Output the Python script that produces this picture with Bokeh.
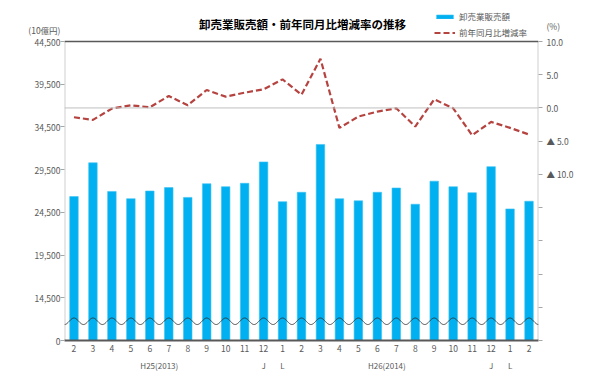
import numpy as np
from bokeh.plotting import figure
from bokeh.models import (Range1d, LinearAxis, FixedTicker, Span, Label, Legend, LegendItem, ColumnDataSource)
from bokeh.embed import file_html
from bokeh.resources import INLINE

# ---- data ----
months = ["2", "3", "4", "5", "6", "7", "8", "9", "10", "11", "12", "1",
          "2", "3", "4", "5", "6", "7", "8", "9", "10", "11", "12", "1", "2"]
sales = [26350, 30300, 26950, 26100, 27000, 27400, 26250, 27850, 27500, 27900, 30400, 25750,
         26850, 32450, 26100, 25850, 26850, 27350, 25450, 28150, 27500, 26800, 29850, 24900, 25800]
yoy = [-1.4, -1.8, -0.1, 0.4, 0.1, 1.8, 0.4, 2.7, 1.7, 2.3, 2.8, 4.3,
       2.0, 7.4, -3.0, -1.3, -0.55, -0.05, -2.8, 1.3, -0.05, -4.1, -2.1, -3.0, -4.0]
left_ticks = [9500, 14500, 19500, 24500, 29500, 34500, 39500, 44500]
left_labels = ["0", "14,500", "19,500", "24,500", "29,500", "34,500", "39,500", "44,500"]
right_ticks = [-35, -30, -25, -20, -15, -10, -5, 0, 5, 10]
right_labels = ["", "", "", "", "", "▲ 10.0", "▲ 5.0", "0.0", "5.0", "10.0"]
year_pos = [4.5, 10, 11, 16.5, 22, 23]
year_labels = ["H25(2013)", "J", "L", "H26(2014)", "J", "L"]
left_unit = "(10億円)"
right_unit = "(%)"
title = "卸売業販売額・前年同月比増減率の推移"

FONT = "Noto Sans CJK JP"
TXT = "#595959"
BLUE = "#00B0F0"
RED = "#B5433F"
TICK = "#A6A6A6"

# layout (pixels)
W, H = 592, 374
B_LEFT, B_RIGHT, B_BOTTOM = 64, 54, 34
PLOT_TOP = 41                      # where the value area begins below the frame top
FRAME_H = H - B_BOTTOM             # frame reaches the canvas top
AREA_H = FRAME_H - PLOT_TOP

n = len(months)
xs = list(range(n))
src = ColumnDataSource(dict(x=xs, sales=sales, yoy=yoy))

l_lo, l_hi = left_ticks[0], left_ticks[-1]
r_lo, r_hi = right_ticks[0], right_ticks[-1]
l_per_px = (l_hi - l_lo) / AREA_H
r_per_px = (r_hi - r_lo) / AREA_H

p = figure(width=W, height=H, output_backend="svg", toolbar_location=None,
           x_range=Range1d(-0.5, n - 0.5),
           y_range=Range1d(l_lo, l_hi + PLOT_TOP * l_per_px),
           min_border_left=B_LEFT, min_border_right=B_RIGHT, min_border_top=0,
           min_border_bottom=B_BOTTOM)
p.extra_y_ranges = {"pct": Range1d(r_lo, r_hi + PLOT_TOP * r_per_px)}
p.outline_line_color = None
p.background_fill_color = "white"
p.border_fill_color = "white"
p.xgrid.visible = False
p.ygrid.visible = False

# zero line of percentage axis
p.add_layout(Span(location=0, dimension="width", y_range_name="pct",
                  line_color="#BFBFBF", line_width=1))
# top border line
p.add_layout(Span(location=l_hi, dimension="width",
                  line_color="#595959", line_width=1.5))
# side axis lines, limited to the value area
p.segment(x0=[-0.5, n - 0.5], y0=[l_lo, l_lo], x1=[-0.5, n - 0.5], y1=[l_hi, l_hi],
          line_color="#D0D0D0", line_width=2)

bars = p.vbar(x="x", top="sales", bottom=l_lo, width=0.45, source=src,
              fill_color=BLUE, line_color="#3FC3F3", line_width=0.6)
line = p.line(x="x", y="yoy", source=src, y_range_name="pct",
              line_color=RED, line_width=2.2, line_dash="6 3")

# wavy break mark
wx = np.linspace(-0.5, n - 0.5, 1200)
wy = 11750 + 380 * np.cos(2 * np.pi * wx)
p.line(wx, wy, line_color="#333333", line_width=0.9)


def style_ticks_only(ax, ticks):
    ax.ticker = FixedTicker(ticks=ticks)
    ax.major_label_overrides = {t: "" for t in ticks}
    ax.major_label_text_font_size = "0px"
    ax.major_label_standoff = 0
    ax.axis_line_color = None
    ax.major_tick_line_color = TICK
    ax.major_tick_out = 4
    ax.major_tick_in = 0
    ax.minor_tick_line_color = None
    ax.minor_tick_out = 0


def style_labels_only(ax, ticks, labels, standoff):
    ax.ticker = FixedTicker(ticks=ticks)
    ax.major_label_overrides = {t: l for t, l in zip(ticks, labels)}
    ax.axis_line_color = None
    ax.major_tick_line_color = None
    ax.major_tick_out = 0
    ax.major_tick_in = 0
    ax.minor_tick_line_color = None
    ax.minor_tick_out = 0
    ax.major_label_text_font = FONT
    ax.major_label_text_font_size = "8.5px"
    ax.major_label_text_color = TXT
    ax.major_label_standoff = standoff


# left: tick marks (next to the frame), then labels (incl. unit)
style_ticks_only(p.yaxis[0], left_ticks)
l_unit_val = l_hi + 12 * l_per_px
la = LinearAxis()
style_labels_only(la, left_ticks + [l_unit_val], left_labels + [left_unit], 0)
p.add_layout(la, "left")

# right: tick marks, then labels (incl. unit)
rt = LinearAxis(y_range_name="pct")
style_ticks_only(rt, right_ticks)
p.add_layout(rt, "right")
r_unit_val = r_hi + 16 * r_per_px
ra = LinearAxis(y_range_name="pct")
style_labels_only(ra, right_ticks + [r_unit_val], right_labels + [right_unit], 4)
p.add_layout(ra, "right")

# bottom axis (months)
xa = p.xaxis[0]
xa.ticker = FixedTicker(ticks=xs)
xa.major_label_overrides = {i: m for i, m in enumerate(months)}
xa.axis_line_color = "#595959"
xa.axis_line_width = 2
xa.major_tick_line_color = None
xa.major_tick_out = 0
xa.major_tick_in = 0
xa.minor_tick_line_color = None
xa.minor_tick_out = 0
xa.major_label_text_font = FONT
xa.major_label_text_font_size = "8.5px"
xa.major_label_text_color = TXT
xa.major_label_standoff = 4

# second bottom axis (years)
xa2 = LinearAxis()
xa2.ticker = FixedTicker(ticks=year_pos)
xa2.major_label_overrides = {t: l for t, l in zip(year_pos, year_labels)}
xa2.axis_line_color = None
xa2.major_tick_line_color = None
xa2.major_tick_out = 0
xa2.major_tick_in = 0
xa2.minor_tick_line_color = None
xa2.minor_tick_out = 0
xa2.major_label_text_font = FONT
xa2.major_label_text_font_size = "8px"
xa2.major_label_text_color = TXT
xa2.major_label_standoff = 5
p.add_layout(xa2, "below")

# title
p.add_layout(Label(x=238, y=FRAME_H - 23.5, x_units="screen", y_units="screen",
                   text=title, text_align="center",
                   text_baseline="middle", text_font=FONT, text_font_size="11.5px",
                   text_font_style="bold", text_color="#000000"))

legend = Legend(items=[LegendItem(label="卸売業販売額", renderers=[bars]),
                       LegendItem(label="前年同月比増減率", renderers=[line])],
                location=(370, FRAME_H - 38), orientation="vertical",
                glyph_width=21, glyph_height=5, label_height=12, spacing=4,
                padding=0, margin=0, label_standoff=4,
                border_line_color=None, background_fill_alpha=0,
                label_text_font=FONT, label_text_font_size="8.5px", label_text_color=TXT)
p.add_layout(legend, "center")

open("out.html", "w").write(file_html(p, INLINE))
